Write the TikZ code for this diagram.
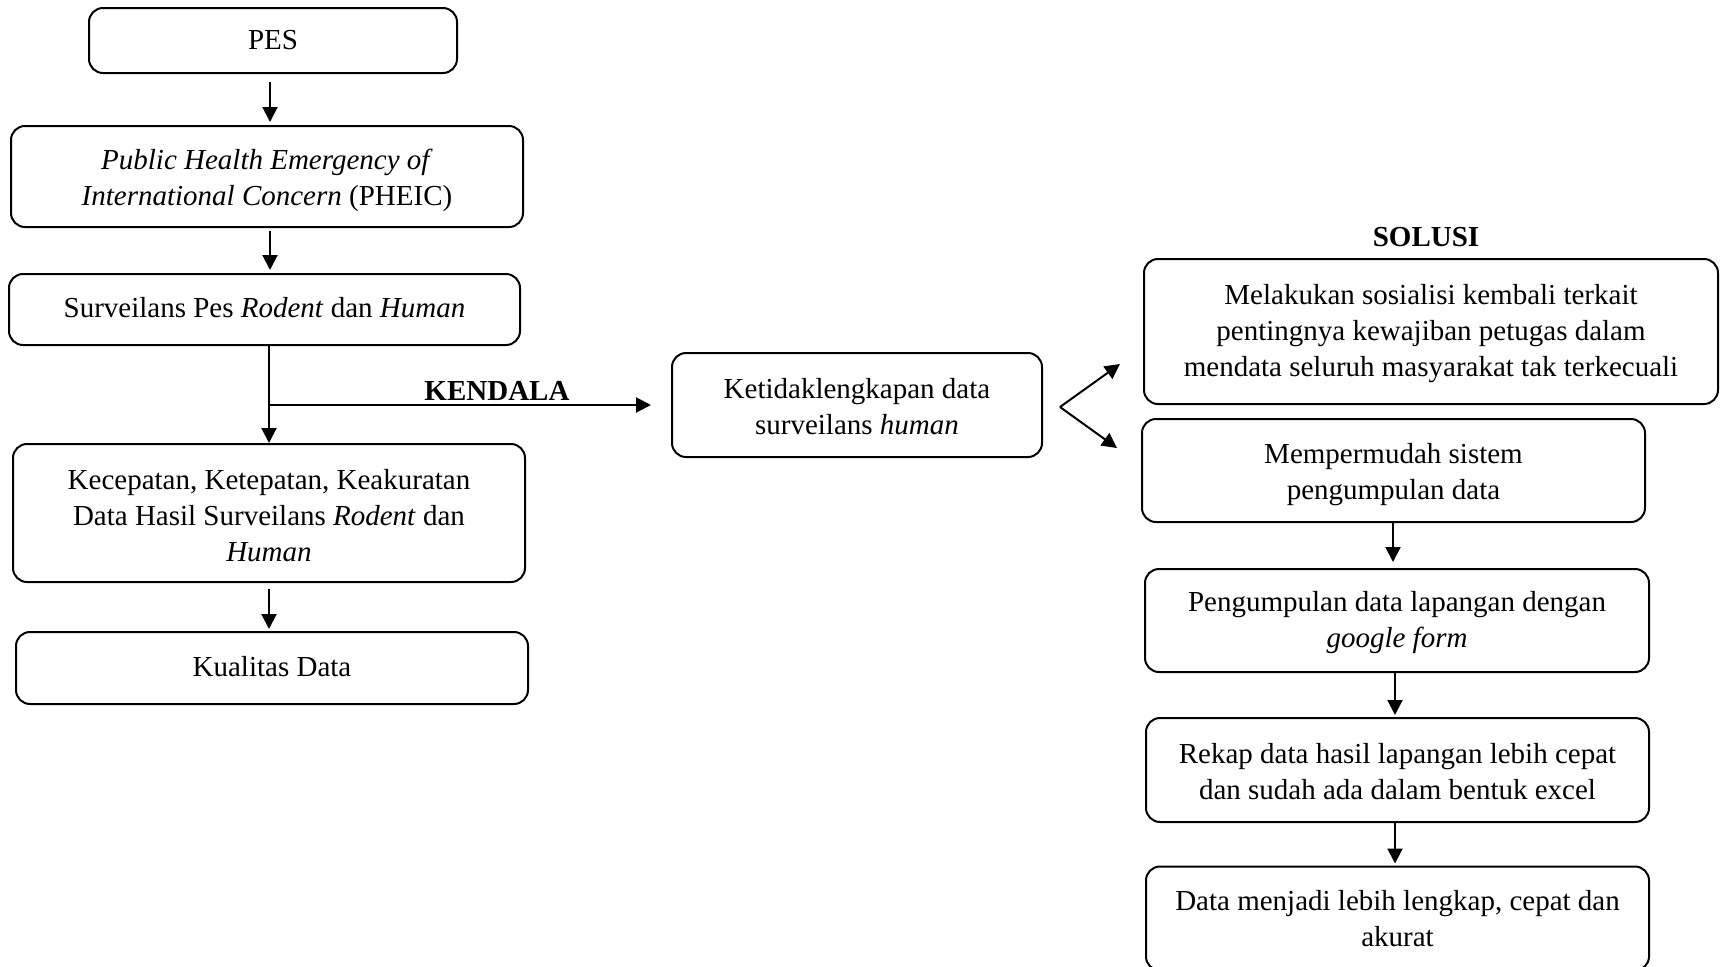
\documentclass[tikz,border=0pt]{standalone}
\usepackage{fontspec}
\setmainfont{Liberation Serif}
\usetikzlibrary{arrows.meta}
\begin{document}
\begin{tikzpicture}[x=0.5pt,y=-0.5pt,
  box/.style={draw=black, line width=1pt, rounded corners=7pt, align=center, inner sep=0pt,
    font=\fontsize{14.5}{18}\selectfont},
  lbl/.style={font=\fontsize{14.5}{17}\selectfont\bfseries, inner sep=0pt},
  arr/.style={draw=black, line width=1pt, -{Triangle[length=7.5pt,width=7.5pt]}}]
\useasboundingbox (0,0) rectangle (1720,966);
% left column
\node[box, minimum width=184pt, minimum height=32.5pt] (pes) at (273,40.5) {PES};
\node[box, minimum width=256pt, minimum height=50.5pt] (pheic) at (267,176.5)
  {\rule{0pt}{14pt}\textit{Public Health Emergency of}\\\textit{International Concern} (PHEIC)};
\node[box, minimum width=255.5pt, minimum height=35.5pt] (surv) at (264.5,309.5)
  {\raisebox{1.6pt}{Surveilans Pes \textit{Rodent} dan \textit{Human}}};
\node[box, minimum width=256pt, minimum height=69pt] (kecep) at (269,513)
  {\rule{0pt}{12.4pt}Kecepatan, Ketepatan, Keakuratan\\Data Hasil Surveilans \textit{Rodent} dan\\\textit{Human}};
\node[box, minimum width=256pt, minimum height=36pt] (kual) at (272,668)
  {\raisebox{1.2pt}{Kualitas Data}};
% middle
\node[box, minimum width=185pt, minimum height=52pt] (ketidak) at (857,405)
  {\rule{0pt}{11.2pt}Ketidaklengkapan data\\surveilans \textit{human}};
\node[lbl] (kendala) at (497,391) {KENDALA};
% right column
\node[lbl] (solusi) at (1426,237) {SOLUSI};
\node[box, minimum width=287pt, minimum height=72.5pt] (s1) at (1431,331.5)
  {\rule{0pt}{12.4pt}Melakukan sosialisi kembali terkait\\pentingnya kewajiban petugas dalam\\mendata seluruh masyarakat tak terkecuali};
\node[box, minimum width=251.5pt, minimum height=51.5pt] (s2) at (1393.5,470.5)
  {\rule{0pt}{14.5pt}Mempermudah sistem\\pengumpulan data};
\node[box, minimum width=252pt, minimum height=51.5pt] (s3) at (1397,620.5)
  {\rule{0pt}{12.4pt}Pengumpulan data lapangan dengan\\\textit{google form}};
\node[box, minimum width=251.5pt, minimum height=52pt] (s4) at (1397.5,770)
  {\rule{0pt}{11.2pt}Rekap data hasil lapangan lebih cepat\\dan sudah ada dalam bentuk excel};
\node[box, minimum width=251.5pt, minimum height=52pt] (s5) at (1397.5,918.5)
  {Data menjadi lebih lengkap, cepat dan\\akurat};
% connectors left
\draw[arr, shorten <=4pt, shorten >=1.5pt] ([xshift=-1.5pt]pes.south) -- ([xshift=-1.5pt]pes.south |- pheic.north);
\draw[arr, shorten <=1.5pt, shorten >=1.5pt] ([xshift=1.5pt]pheic.south) -- ([xshift=1.5pt]pheic.south |- surv.north);
\draw[arr] (surv.south -| kecep.north) -- (kecep.north);
\coordinate (junc) at (kecep.north |- ketidak.west);
\draw[arr, shorten >=10pt] (junc) -- (ketidak.west);
\draw[arr, shorten <=3pt, shorten >=1pt] (kecep.south) -- (kecep.south |- kual.north);
% split
\coordinate (sp) at (1060,407);
\coordinate (t1) at (1120,364);
\coordinate (t2) at (1117,448);
\draw[arr] (sp) -- (t1);
\draw[arr] (sp) -- (t2);
% right chain
\draw[arr, shorten >=3pt] (s2.south -| 1393,0) -- (s3.north -| 1393,0);
\draw[arr, shorten >=1pt] (s3.south -| 1395,0) -- (s4.north -| 1395,0);
\draw[arr, shorten >=1pt] (s4.south -| 1395,0) -- (s5.north -| 1395,0);
\end{tikzpicture}
\end{document}
